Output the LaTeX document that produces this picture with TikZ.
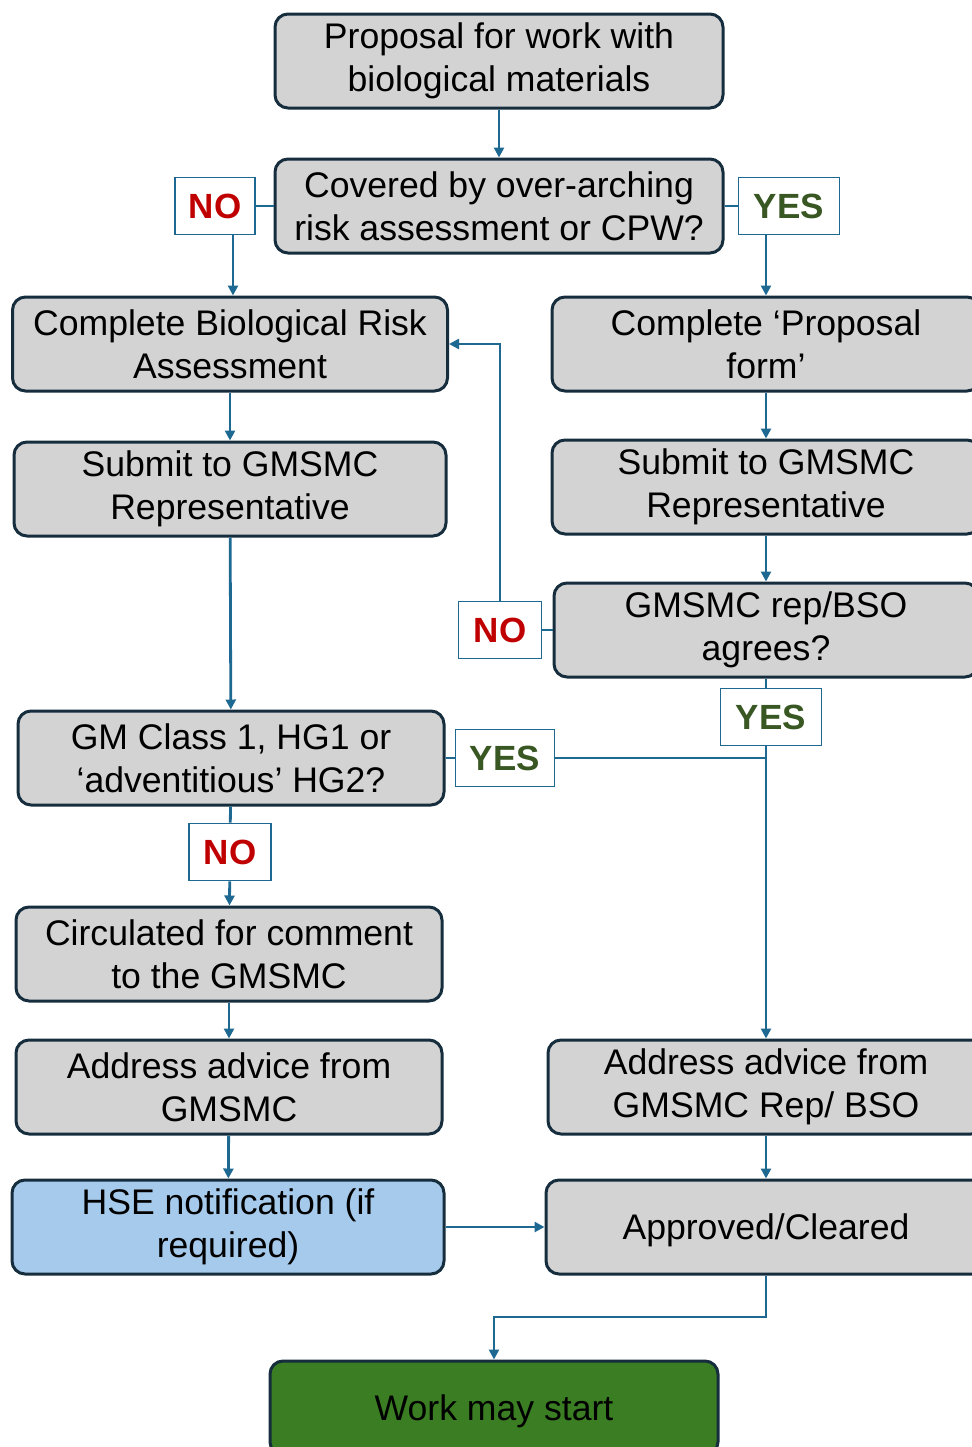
\documentclass[tikz,border=0pt]{standalone}
\usepackage{fontspec}
\setmainfont{Liberation Sans}
\usetikzlibrary{arrows.meta}
\definecolor{boxgray}{RGB}{211,211,211}
\definecolor{boxline}{RGB}{22,45,62}
\definecolor{linkblue}{RGB}{30,105,145}
\definecolor{nored}{RGB}{192,0,0}
\definecolor{yesgreen}{RGB}{56,87,35}
\definecolor{hseblue}{RGB}{166,202,236}
\definecolor{startgreen}{RGB}{58,125,34}
\tikzset{stepbox/.style={draw=boxline, line width=1.5pt, fill=boxgray, rounded corners=6.5pt,
    align=center, inner sep=0pt, minimum height=47pt, font=\fontsize{17.8}{21.5}\selectfont,
    execute at begin node={\rule{0pt}{16.5pt}}},
answer/.style={draw=linkblue, line width=0.8pt, fill=white, minimum height=28.5pt,
    inner sep=0pt, font=\fontsize{17.5}{20}\selectfont\bfseries},
link/.style={draw=linkblue, line width=1.4pt},
%arrow tip of the connectors
arr/.style={link, -{Triangle[length=5pt,width=5pt]}}}

\begin{document}
\begin{tikzpicture}[x=0.5pt,y=-0.5pt]

\useasboundingbox (0,0) rectangle (972,1447);

\node[stepbox, minimum width=224pt] (proposal) at (499,61) {Proposal for work with\\biological materials};
\node[stepbox, minimum width=224pt] (covered) at (499,206) {Covered by over-arching\\risk assessment or CPW?};

\node[stepbox, minimum width=217.5pt] (biorisk) at (230,344) {Complete Biological Risk\\Assessment};
\node[stepbox, minimum width=216pt] (submitL) at (230,489) {Submit to GMSMC\\Representative};
\node[stepbox, minimum width=213pt] (gmclass) at (231,758) {GM Class 1, HG1 or\\‘adventitious’ HG2?};
\node[stepbox, minimum width=213pt] (circ) at (229,954) {Circulated for comment\\to the GMSMC};
\node[stepbox, minimum width=213pt] (addrL) at (229,1087) {Address advice from\\GMSMC};
\node[stepbox, minimum width=216pt, fill=hseblue] (hse) at (228,1227) {HSE notification (if\\required)};

\node[stepbox, minimum width=214pt] (propform) at (766,344) {Complete ‘Proposal\\form’};
\node[stepbox, minimum width=214pt] (submitR) at (766,487) {Submit to GMSMC\\Representative};
\node[stepbox, minimum width=212pt] (agrees) at (766,630) {GMSMC rep/BSO\\agrees?};
\node[stepbox, minimum width=218pt] (addrR) at (766,1087) {Address advice from\\GMSMC Rep/ BSO};
\node[stepbox, minimum width=220pt] (approved) at (766,1227) {Approved/Cleared};

\node[stepbox, minimum width=224pt, fill=startgreen] (work) at (494,1408) {Work may start};

% answer labels
\node[answer, text=nored, minimum width=40pt] (no1) at (215,206) {NO};
\node[answer, text=yesgreen, minimum width=50.5pt] (yes1) at (789,206) {YES};
\node[answer, text=nored, minimum width=41.5pt] (no2) at (500,630) {NO};
\node[answer, text=yesgreen, minimum width=50.5pt] (yes2) at (771,717) {YES};
\node[answer, text=yesgreen, minimum width=49.5pt] (yes3) at (505,758) {YES};
\node[answer, text=nored, minimum width=41pt] (no3) at (230,852) {NO};

\coordinate (bend) at (494,1317);

\draw[arr] (proposal) -- (covered);
\draw[link] (covered) -- (no1);
\draw[link] (covered) -- (yes1);
\draw[arr] (no1.south -| 233,0) -- (biorisk.north -| 233,0);
\draw[arr] (yes1.south -| propform.north) -- (propform.north);
\draw[arr] (biorisk) -- (submitL);
\draw[arr] (submitL) -- (gmclass);
\draw[arr] (propform) -- (submitR);
\draw[arr] (submitR) -- (agrees);
\draw[link] (agrees) -- (no2);
\draw[arr] (no2) |- (biorisk.east);
\draw[link] (agrees.south) -- (yes2.north -| agrees.south);
\draw[arr] (yes2.south -| addrR.north) -- (addrR.north);
\draw[link] (gmclass) -- (yes3);
\draw[link] (yes3.east) -- (yes3.east -| addrR.north);
\draw[link] (gmclass) -- (no3);
\draw[arr] (no3) -- (circ);
\draw[arr] (circ) -- (addrL);
\draw[arr] (addrL) -- (hse);
\draw[arr] (hse) -- (approved);
\draw[arr] (addrR) -- (approved);
\draw[arr] (approved.south) |- (bend) -- (work.north);

\end{tikzpicture}
\end{document}
